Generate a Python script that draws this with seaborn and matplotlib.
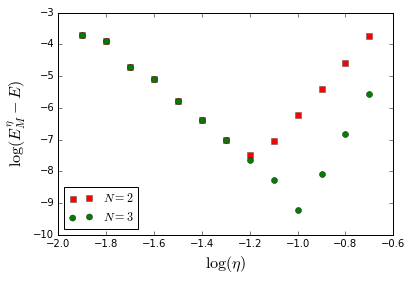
import numpy as np
import pandas as pd
import matplotlib
matplotlib.use('Agg')
import matplotlib.pyplot as plt
import seaborn as sns

# log(eta) values
log_eta = [-1.9, -1.8, -1.7, -1.6, -1.5, -1.4, -1.3, -1.2, -1.1, -1.0, -0.9, -0.8, -0.7]

# log error
err_n2 = [-3.71, -3.90, -4.72, -5.10, -5.79, -6.39, -7.02, -7.49, -7.05, -6.23, -5.41, -4.59, -3.73]
err_n3 = [-3.71, -3.90, -4.72, -5.10, -5.79, -6.39, -7.02, -7.65, -8.28, -9.22, -8.09, -6.83, -5.57]

df = pd.DataFrame({'log_eta': log_eta, 'N2': err_n2, 'N3': err_n3})

plt.style.use('classic')
plt.rcParams['mathtext.fontset'] = 'cm'

fig = plt.figure(figsize=(412 / 72, 281 / 72), dpi=72)
fig.patch.set_facecolor('white')
ax = fig.add_axes([0.1415, 0.1637, 0.9546 - 0.1415, 0.9548 - 0.1637])

sns.scatterplot(data=df, x='log_eta', y='N2', marker='s', color='red', s=36,
                edgecolor='#555555', linewidth=0.5, label='$N=2$', ax=ax)
sns.scatterplot(data=df, x='log_eta', y='N3', marker='o', color='green', s=36,
                edgecolor='#222222', linewidth=0.5, label='$N=3$', ax=ax)

ax.set_xlim(-2.0, -0.6)
ax.set_ylim(-10, -3)
ax.set_xticks(np.arange(-2.0, -0.59, 0.2))
ax.set_yticks(np.arange(-10, -2.9, 1))
ax.tick_params(labelsize=10)
ax.set_xlabel(r'$\log(\eta)$', fontsize=16)
ax.set_ylabel(r'$\log(E^\eta_M - E)$', fontsize=16)

ax.legend(loc='lower left', scatterpoints=2, fontsize=12, borderaxespad=0.5)

fig.savefig('out.png', dpi=72, facecolor='white')
